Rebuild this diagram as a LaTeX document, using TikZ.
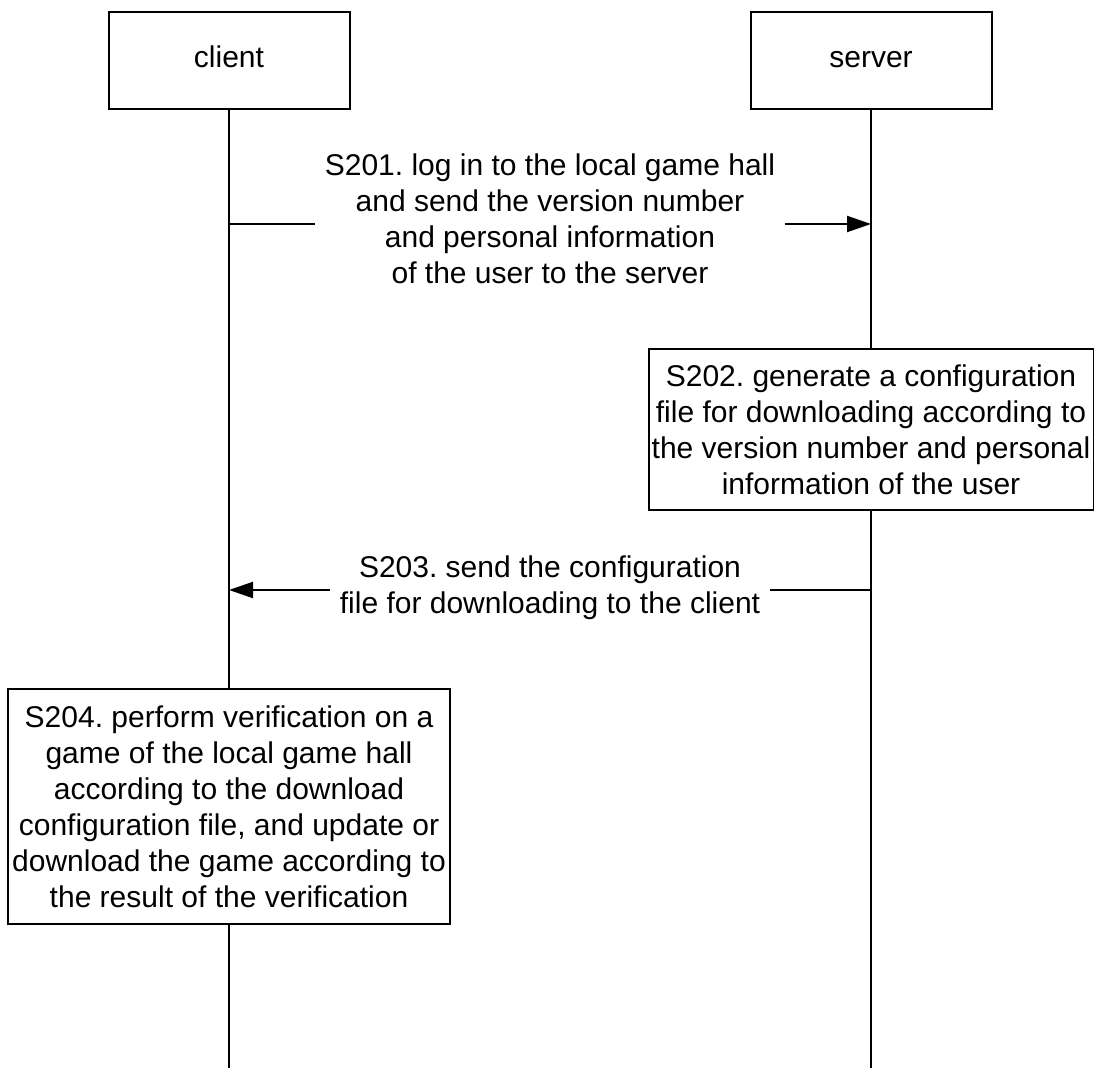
\documentclass[tikz,border=0pt]{standalone}
\usepackage{fontspec}
\setmainfont{Liberation Sans}
\usetikzlibrary{arrows.meta, positioning, math, calc}
\frenchspacing

\begin{document}
\begin{tikzpicture}[x=0.5pt, y=-0.5pt]
	\tikzmath{
		\clientX    = 229;  %client lifeline
		\serverX    = 871;  %server lifeline
		\bottomY    = 1068; %end of both lifelines
		\firstMsgY  = 224;  %height of S201 arrow
		\secondMsgY = 590;  %height of S203 arrow
	}
	\tikzstyle{Actor} = [
		rectangle,
		minimum width=120.5pt,
		minimum height=48.5pt,
		text height=0.72em,
		text depth=0em,
		text centered,
		draw=black,
		line width=1pt,
		fill=white,
		font=\fontsize{15}{18}\selectfont
	]
	\tikzstyle{StepNode} = [rectangle, draw=black, line width=1pt, fill=white, align=center, inner sep=0pt, font=\fontsize{15}{18}\selectfont]
	\tikzstyle{MsgNode}  = [rectangle, align=center, inner xsep=4.5pt, font=\fontsize{15}{18}\selectfont]
	\tikzstyle{Msg}      = [-{Triangle[length=12pt,width=8pt]}, line width=1pt]
	\tikzstyle{Life}     = [line width=1pt]

	\useasboundingbox (0,0) rectangle (1094,1068);

	%%%%%%%%%%%%%%%%%%%%%%%%%%===---LIFELINES---===%%%%%%%%%%%%%%%%%%%%%%%%%%
	\node (client) [Actor] at (\clientX,60.5) {client};
	\node (server) [Actor] at (\serverX,60.5) {server};
	\coordinate (clientEnd) at (\clientX,\bottomY);
	\coordinate (serverEnd) at (\serverX,\bottomY);
	\draw[Life] (client) -- (clientEnd);
	\draw[Life] (server) -- (serverEnd);

	%%%%%%%%%%%%%%%%%%%%%%%%%%===---S201---===%%%%%%%%%%%%%%%%%%%%%%%%%%
	\coordinate (c1) at (\clientX,\firstMsgY);
	\coordinate (s1) at (\serverX,\firstMsgY);
	\node (msg1) [MsgNode] at ($(c1)!0.5!(s1) + (0,-5)$)
		{S201. log in to the local game hall\\and send the version number\\and personal information\\of the user to the server};
	\draw[Life] (c1) -- (c1 -| msg1.west);
	\draw[Msg] (s1 -| msg1.east) -- (s1);

	%%%%%%%%%%%%%%%%%%%%%%%%%%===---S202---===%%%%%%%%%%%%%%%%%%%%%%%%%%
	\node (s202) [StepNode, minimum width=222.5pt, minimum height=80.5pt] at (\serverX,429.5)
		{S202. generate a configuration\\file for downloading according to\\the version number and personal\\information of the user};

	%%%%%%%%%%%%%%%%%%%%%%%%%%===---S203---===%%%%%%%%%%%%%%%%%%%%%%%%%%
	\coordinate (c2) at (\clientX,\secondMsgY);
	\coordinate (s2) at (\serverX,\secondMsgY);
	\node (msg2) [MsgNode] at ($(c2)!0.5!(s2) + (0,-2)$)
		{S203. send the configuration\\file for downloading to the client};
	\draw[Life] (s2) -- (s2 -| msg2.east);
	\draw[Msg] (c2 -| msg2.west) -- (c2);

	%%%%%%%%%%%%%%%%%%%%%%%%%%===---S204---===%%%%%%%%%%%%%%%%%%%%%%%%%%
	\node (s204) [StepNode, minimum width=221pt, minimum height=117.5pt] at (\clientX,806.5)
		{S204. perform verification on a\\game of the local game hall\\according to the download\\configuration file, and update or\\download the game according to\\the result of the verification};
\end{tikzpicture}
\end{document}
